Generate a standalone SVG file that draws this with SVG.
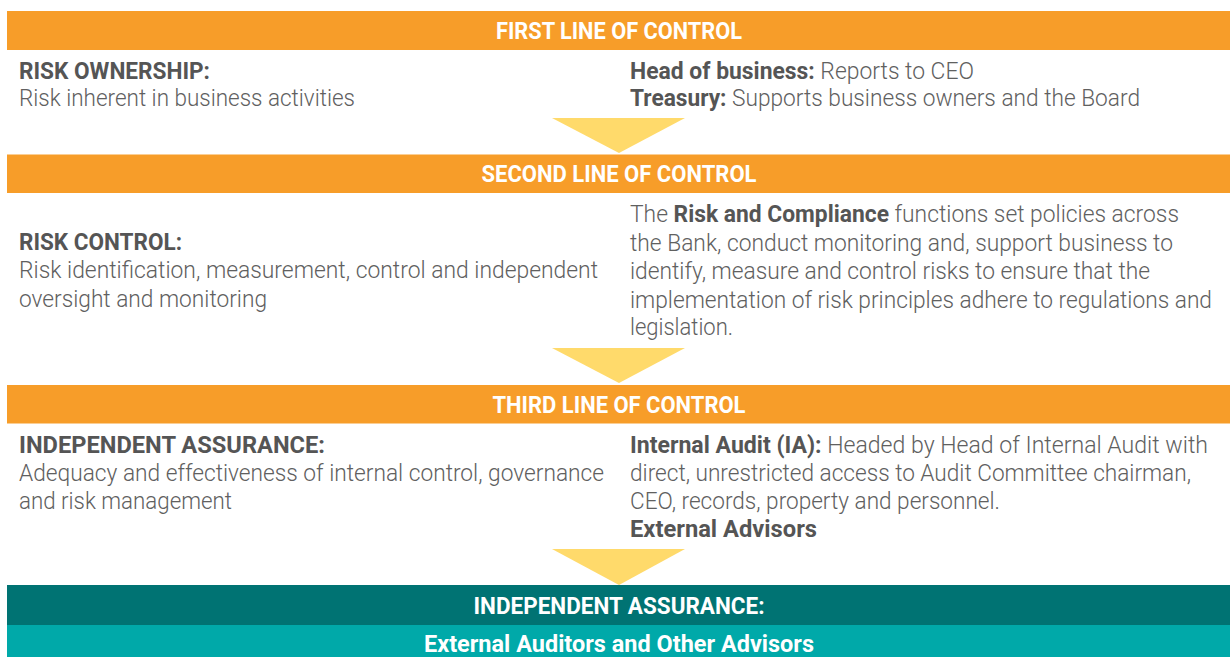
<svg xmlns="http://www.w3.org/2000/svg" width="1230" height="657" viewBox="0 0 1230 657">
<style>
.bar{fill:#F79D29}
.tri{fill:#FFDA6B}
.bt{font-family:Roboto,"Liberation Sans",sans-serif;font-weight:700;font-size:23px;fill:#fff;text-anchor:middle}
.t{font-family:Roboto,"Liberation Sans",sans-serif;font-weight:300;font-size:24px;fill:#606060}
.b{font-weight:700;fill:#555}
</style>
<rect width="1230" height="657" fill="#fff"/>
<g id="connectors">
<polygon class="tri" points="552,118 685,118 619,153"/>
<polygon class="tri" points="552,348 685,348 619,383"/>
<polygon class="tri" points="552,549 685,549 619,585"/>
</g>
<g id="first-line">
<rect class="bar" x="7" y="11" width="1223" height="39"/>
<text class="bt" x="619" y="39" textLength="246" lengthAdjust="spacingAndGlyphs">FIRST LINE OF CONTROL</text>
<text class="t" x="19" y="79" textLength="191" lengthAdjust="spacingAndGlyphs"><tspan class="b">RISK OWNERSHIP:</tspan></text>
<text class="t" x="19" y="106" textLength="336" lengthAdjust="spacingAndGlyphs">Risk inherent in business activities</text>
<text class="t" x="630" y="79" textLength="344" lengthAdjust="spacingAndGlyphs"><tspan class="b">Head of business:</tspan> Reports to CEO</text>
<text class="t" x="630" y="106" textLength="510" lengthAdjust="spacingAndGlyphs"><tspan class="b">Treasury:</tspan> Supports business owners and the Board</text>
</g>
<g id="second-line">
<rect class="bar" x="7" y="154.5" width="1223" height="38.5"/>
<text class="bt" x="619" y="182" textLength="275" lengthAdjust="spacingAndGlyphs">SECOND LINE OF CONTROL</text>
<text class="t" x="19" y="250" textLength="163" lengthAdjust="spacingAndGlyphs"><tspan class="b">RISK CONTROL:</tspan></text>
<text class="t" x="19" y="278" textLength="579" lengthAdjust="spacingAndGlyphs">Risk identification, measurement, control and independent</text>
<text class="t" x="19" y="307" textLength="248" lengthAdjust="spacingAndGlyphs">oversight and monitoring</text>
<text class="t" x="630" y="222" textLength="549" lengthAdjust="spacingAndGlyphs">The <tspan class="b">Risk and Compliance</tspan> functions set policies across</text>
<text class="t" x="630" y="251" textLength="543" lengthAdjust="spacingAndGlyphs">the Bank, conduct monitoring and, support business to</text>
<text class="t" x="630" y="279" textLength="520" lengthAdjust="spacingAndGlyphs">identify, measure and control risks to ensure that the</text>
<text class="t" x="630" y="308" textLength="582" lengthAdjust="spacingAndGlyphs">implementation of risk principles adhere to regulations and</text>
<text class="t" x="630" y="335" textLength="103" lengthAdjust="spacingAndGlyphs">legislation.</text>
</g>
<g id="third-line">
<rect class="bar" x="7" y="385" width="1223" height="38.5"/>
<text class="bt" x="619" y="413" textLength="253" lengthAdjust="spacingAndGlyphs">THIRD LINE OF CONTROL</text>
<text class="t" x="19" y="453" textLength="306" lengthAdjust="spacingAndGlyphs"><tspan class="b">INDEPENDENT ASSURANCE:</tspan></text>
<text class="t" x="19" y="481" textLength="585" lengthAdjust="spacingAndGlyphs">Adequacy and effectiveness of internal control, governance</text>
<text class="t" x="19" y="509" textLength="213" lengthAdjust="spacingAndGlyphs">and risk management</text>
<text class="t" x="630" y="453" textLength="578" lengthAdjust="spacingAndGlyphs"><tspan class="b">Internal Audit (IA):</tspan> Headed by Head of Internal Audit with</text>
<text class="t" x="630" y="481" textLength="561" lengthAdjust="spacingAndGlyphs">direct, unrestricted access to Audit Committee chairman,</text>
<text class="t" x="630" y="509" textLength="370" lengthAdjust="spacingAndGlyphs">CEO, records, property and personnel.</text>
<text class="t" x="630" y="537" textLength="187" lengthAdjust="spacingAndGlyphs"><tspan class="b">External Advisors</tspan></text>
</g>
<g id="independent-assurance">
<rect x="7" y="585" width="1223" height="40" fill="#007373"/>
<text class="bt" x="619" y="614" textLength="291" lengthAdjust="spacingAndGlyphs">INDEPENDENT ASSURANCE:</text>
</g>
<g id="external-auditors">
<rect x="7" y="625" width="1223" height="32" fill="#00A9A9"/>
<text class="bt" x="619" y="652" textLength="390" lengthAdjust="spacingAndGlyphs">External Auditors and Other Advisors</text>
</g>
</svg>
